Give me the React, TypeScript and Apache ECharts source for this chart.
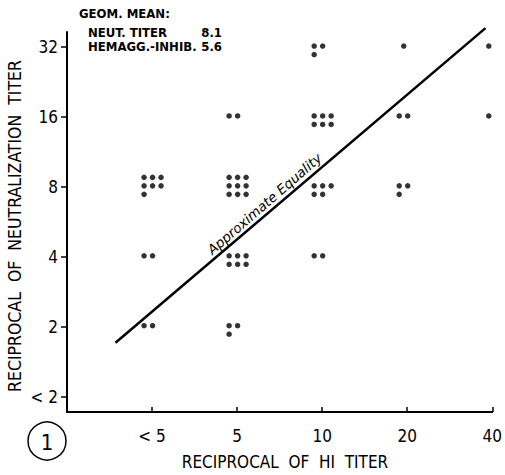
import React, { useEffect, useRef } from "react";
import * as echarts from "echarts";

// Tick labels
const hiCategories = ["< 5", "5", "10", "20", "40"]; // x positions 1..5
const neutLevels = ["< 2", "2", "4", "8", "16", "32"]; // y positions 0..5

// Number of sera in each cell: [hiIndex (0 = "< 5"), neutIndex (0 = "< 2"), count]
const seraCounts: number[][] = [
  [0, 3, 7],
  [0, 2, 2],
  [0, 1, 2],
  [1, 4, 2],
  [1, 3, 9],
  [1, 2, 6],
  [1, 1, 3],
  [2, 5, 3],
  [2, 4, 6],
  [2, 3, 5],
  [2, 2, 2],
  [3, 5, 1],
  [3, 4, 2],
  [3, 3, 3],
  [4, 5, 1],
  [4, 4, 1],
];

// "Approximate Equality" line end points (x in HI positions, y in log2 levels)
const equalityLine = [
  [0.57, 0.77],
  [4.92, 5.27],
];

const geomMeanNeut = "8.1";
const geomMeanHI = "5.6";

const FONT = "'DejaVu Sans Condensed', 'Liberation Sans Narrow', 'DejaVu Sans', sans-serif";

function buildDots() {
  const out: any[] = [];
  const step = 8.5;
  seraCounts.forEach(([hi, ne, count]) => {
    const cols = count === 1 ? 1 : count <= 4 ? 2 : 3;
    const nRows = Math.ceil(count / cols);
    const midRow = Math.floor((nRows - 1) / 2);
    for (let i = 0; i < count; i++) {
      const r = Math.floor(i / cols);
      const c = i % cols;
      let dx: number;
      if (cols === 1) dx = -3.5;
      else if (cols === 2) dx = c * step - 8;
      else dx = (c - 1) * step + 0.5;
      const dy = (r - midRow) * step - 1;
      out.push({ value: [hi + 1, ne], symbolOffset: [dx, dy] });
    }
  });
  return out;
}

export default function App() {
  const ref = useRef<HTMLDivElement>(null);
  useEffect(() => {
    document.body.style.margin = "0";
    const chart = echarts.init(ref.current!, null, { renderer: "svg" });
    const option: any = {
      animation: false,
      backgroundColor: "#fff",
      grid: { left: 67, right: 8, top: 32, bottom: 63 },
      xAxis: {
        type: "value",
        min: 0,
        max: 5,
        axisLine: { show: true, onZero: false, lineStyle: { color: "#000", width: 2 } },
        axisTick: {
          show: true,
          inside: true,
          length: 5,
          customValues: [1, 2, 3, 4, 5],
          lineStyle: { color: "#000", width: 1.5 },
        },
        axisLabel: {
          customValues: [1, 2, 3, 4, 5],
          formatter: (v: number) => hiCategories[Math.round(v) - 1] ?? "",
          color: "#000",
          fontSize: 17,
          fontFamily: FONT,
          margin: 15,
        },
        splitLine: { show: false },
      },
      yAxis: {
        type: "value",
        min: -0.22,
        max: 5.215,
        axisLine: { show: true, onZero: false, lineStyle: { color: "#000", width: 2 } },
        axisTick: {
          show: true,
          length: 6,
          customValues: [0, 1, 2, 3, 4, 5],
          lineStyle: { color: "#000", width: 1.5 },
        },
        axisLabel: {
          customValues: [0, 1, 2, 3, 4, 5],
          formatter: (v: number) => neutLevels[Math.round(v)] ?? "",
          color: "#000",
          fontSize: 17,
          fontFamily: FONT,
          margin: 9,
        },
        splitLine: { show: false },
      },
      series: [
        {
          type: "scatter",
          data: buildDots(),
          symbol: "circle",
          symbolSize: 5.5,
          itemStyle: { color: "#000" },
        },
        {
          type: "line",
          data: equalityLine,
          symbol: "none",
          clip: false,
          lineStyle: { color: "#000", width: 2.5 },
        },
      ],
      graphic: [
        {
          type: "text",
          x: 79,
          y: 13,
          style: {
            text: "GEOM. MEAN:",
            fontSize: 13,
            fontWeight: "bold",
            fontFamily: FONT,
            fill: "#000",
            verticalAlign: "middle",
          },
        },
        {
          type: "text",
          x: 88,
          y: 32,
          style: {
            text: "NEUT. TITER",
            fontSize: 13,
            fontWeight: "bold",
            fontFamily: FONT,
            fill: "#000",
            verticalAlign: "middle",
          },
        },
        {
          type: "text",
          x: 222,
          y: 32,
          style: {
            text: geomMeanNeut,
            fontSize: 13,
            fontWeight: "bold",
            fontFamily: FONT,
            fill: "#000",
            align: "right",
            verticalAlign: "middle",
          },
        },
        {
          type: "text",
          x: 88,
          y: 46,
          style: {
            text: "HEMAGG.-INHIB.",
            fontSize: 13,
            fontWeight: "bold",
            fontFamily: FONT,
            fill: "#000",
            verticalAlign: "middle",
          },
        },
        {
          type: "text",
          x: 222,
          y: 46,
          style: {
            text: geomMeanHI,
            fontSize: 13,
            fontWeight: "bold",
            fontFamily: FONT,
            fill: "#000",
            align: "right",
            verticalAlign: "middle",
          },
        },
        {
          type: "text",
          x: 269,
          y: 209,
          rotation: (41 * Math.PI) / 180,
          style: {
            text: "Approximate Equality",
            fontSize: 13.5,
            fontStyle: "italic",
            fontFamily: "'DejaVu Sans', sans-serif",
            fill: "#000",
            align: "center",
            verticalAlign: "bottom",
          },
        },
        {
          type: "text",
          x: 15,
          y: 226,
          rotation: Math.PI / 2,
          style: {
            text: "RECIPROCAL  OF  NEUTRALIZATION  TITER",
            fontSize: 17.5,
            fontFamily: FONT,
            fill: "#000",
            align: "center",
            verticalAlign: "middle",
          },
        },
        {
          type: "text",
          x: 285,
          y: 462,
          style: {
            text: "RECIPROCAL  OF  HI  TITER",
            fontSize: 17,
            fontFamily: FONT,
            fill: "#000",
            align: "center",
            verticalAlign: "middle",
          },
        },
        {
          type: "circle",
          shape: { cx: 47, cy: 441, r: 19 },
          style: { fill: "none", stroke: "#000", lineWidth: 1.5 },
        },
        {
          type: "text",
          x: 47,
          y: 442,
          style: {
            text: "1",
            fontSize: 22,
            fontFamily: FONT,
            fill: "#000",
            align: "center",
            verticalAlign: "middle",
          },
        },
      ],
    };
    chart.setOption(option);
    return () => chart.dispose();
  }, []);
  return <div ref={ref} style={{ width: 505, height: 475 }} />;
}
